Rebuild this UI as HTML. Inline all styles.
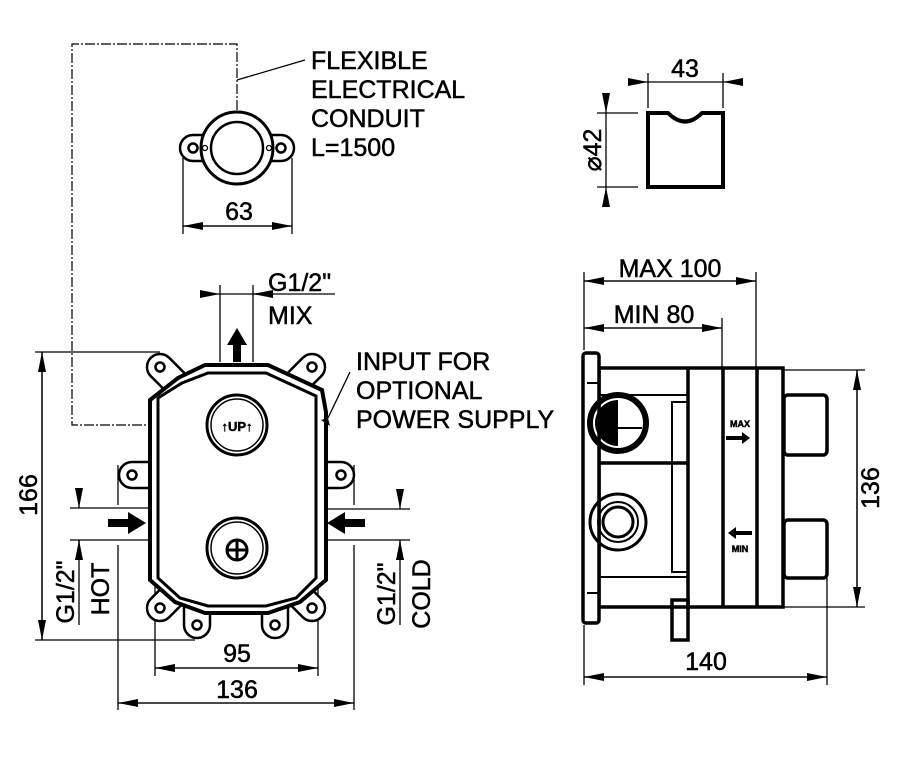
<!DOCTYPE html>
<html><head><meta charset="utf-8"><style>
html,body{margin:0;padding:0;background:#fff;}
svg{display:block;}
text{font-family:"Liberation Sans",Arial,sans-serif;font-size:25px;fill:#000;stroke:#000;stroke-width:0.5;}
</style></head><body>
<svg width="924" height="758" viewBox="0 0 924 758" xmlns="http://www.w3.org/2000/svg">
<defs>
<marker id="a" viewBox="0 0 20 8" refX="20" refY="4" markerWidth="20" markerHeight="8" markerUnits="userSpaceOnUse" orient="auto"><path d="M0,0 L20,4 L0,8 Z" fill="#000"/></marker>
<g id="ear"><path d="M-13,0 A13,13 0 0,1 13,0 L13,26 L-13,26 Z" fill="#fff" stroke="#000" stroke-width="2.5"/><circle r="4.5" fill="none" stroke="#000" stroke-width="2.5"/></g>
</defs>
<g fill="none" stroke="#000" stroke-width="1.3">
<path d="M237,110 V44 H72 V425 H155" stroke-dasharray="10,2,2,2" stroke-width="1.2"/>
<line x1="237" y1="80" x2="305" y2="60"/>
<!-- conduit ring -->
<use href="#ear" transform="translate(193,148) rotate(-90)"/>
<use href="#ear" transform="translate(281,148) rotate(90)"/>
<circle cx="237" cy="148" r="36" stroke-width="3" fill="#fff"/>
<circle cx="237" cy="148" r="26" stroke-width="2.5"/>
<circle cx="205" cy="148" r="2.5"/><circle cx="269" cy="148" r="2.5"/>
<line x1="183" y1="158" x2="183" y2="234"/><line x1="292" y1="158" x2="292" y2="234"/>
<line x1="183" y1="226" x2="292" y2="226" marker-end="url(#a)"/>
<line x1="292" y1="226" x2="183" y2="226" marker-end="url(#a)"/>
<line x1="220" y1="285" x2="220" y2="362"/><line x1="253" y1="285" x2="253" y2="362"/>
<line x1="200" y1="294" x2="220" y2="294" marker-end="url(#a)"/>
<line x1="272" y1="294" x2="253" y2="294" marker-end="url(#a)"/>
<line x1="220" y1="294" x2="335" y2="294"/>
<line x1="35" y1="352" x2="160" y2="352"/><line x1="35" y1="640" x2="195" y2="640"/>
<line x1="42" y1="352" x2="42" y2="640" marker-end="url(#a)"/>
<line x1="42" y1="640" x2="42" y2="352" marker-end="url(#a)"/>
<line x1="70" y1="508" x2="148" y2="508"/><line x1="70" y1="540" x2="148" y2="540"/>
<line x1="79" y1="488" x2="79" y2="508" marker-end="url(#a)"/>
<line x1="79" y1="560" x2="79" y2="540" marker-end="url(#a)"/>
<line x1="79" y1="540" x2="79" y2="625"/>
<line x1="325" y1="509" x2="410" y2="509"/><line x1="325" y1="540" x2="410" y2="540"/>
<line x1="400" y1="489" x2="400" y2="509" marker-end="url(#a)"/>
<line x1="400" y1="560" x2="400" y2="540" marker-end="url(#a)"/>
<line x1="400" y1="540" x2="400" y2="625"/>
<line x1="155" y1="585" x2="155" y2="676"/><line x1="318" y1="585" x2="318" y2="676"/>
<line x1="118" y1="545" x2="118" y2="710"/><line x1="354" y1="545" x2="354" y2="710"/>
<line x1="118" y1="465" x2="118" y2="505"/><line x1="354" y1="465" x2="354" y2="505"/>
<line x1="155" y1="668" x2="318" y2="668" marker-end="url(#a)"/><line x1="318" y1="668" x2="155" y2="668" marker-end="url(#a)"/>
<line x1="118" y1="703" x2="354" y2="703" marker-end="url(#a)"/><line x1="354" y1="703" x2="118" y2="703" marker-end="url(#a)"/>
<path d="M350,372 L328,418" />
<!-- ears -->
<use href="#ear" transform="translate(160,367) rotate(-45)"/>
<use href="#ear" transform="translate(312,367) rotate(45)"/>
<use href="#ear" transform="translate(132,475) rotate(-90)"/>
<use href="#ear" transform="translate(341,475) rotate(90)"/>
<use href="#ear" transform="translate(160,608) rotate(-135)"/>
<use href="#ear" transform="translate(312,608) rotate(135)"/>
<use href="#ear" transform="translate(197,625) rotate(180)"/>
<use href="#ear" transform="translate(275,625) rotate(180)"/>
<path d="M205,365 H268 L322,390 L326,412 V580 L300,602 L268,613 H205 L175,602 L150,580 V400 L178,378 Z" fill="#fff" stroke-width="4"/>
<path d="M208,373 H266 L316,396 V578 L296,598 L266,606 H208 L180,598 L158,578 V398 L182,383 Z" stroke-width="3"/>
<circle cx="237" cy="425" r="30" stroke-width="3"/><circle cx="237" cy="425" r="26" stroke-width="1.5"/>
<circle cx="237" cy="548" r="30" stroke-width="3"/><circle cx="237" cy="548" r="26" stroke-width="1.5"/>
<circle cx="237" cy="550" r="10" stroke-width="3"/>
<line x1="227" y1="550" x2="247" y2="550" stroke-width="3"/><line x1="237" y1="540" x2="237" y2="560" stroke-width="3"/>
<!-- cap -->
<path d="M648,113 H668 Q685,130 702,113 H723 V187 H648 Z" stroke-width="4"/>
<line x1="648" y1="73" x2="648" y2="108"/><line x1="723" y1="73" x2="723" y2="108"/>
<line x1="628" y1="82" x2="648" y2="82" marker-end="url(#a)"/><line x1="742" y1="82" x2="723" y2="82" marker-end="url(#a)"/>
<line x1="648" y1="82" x2="723" y2="82"/>
<line x1="597" y1="113" x2="638" y2="113"/><line x1="597" y1="187" x2="638" y2="187"/>
<line x1="606" y1="94" x2="606" y2="113" marker-end="url(#a)"/><line x1="606" y1="206" x2="606" y2="187" marker-end="url(#a)"/>
<line x1="606" y1="113" x2="606" y2="187"/>
<line x1="584" y1="272" x2="584" y2="350"/><line x1="756" y1="272" x2="756" y2="370"/><line x1="722" y1="318" x2="722" y2="370"/>
<line x1="584" y1="281" x2="756" y2="281" marker-end="url(#a)"/><line x1="756" y1="281" x2="584" y2="281" marker-end="url(#a)"/>
<line x1="584" y1="328" x2="722" y2="328" marker-end="url(#a)"/><line x1="722" y1="328" x2="584" y2="328" marker-end="url(#a)"/>
<line x1="783" y1="370" x2="865" y2="370"/><line x1="783" y1="607" x2="865" y2="607"/>
<line x1="857" y1="370" x2="857" y2="607" marker-end="url(#a)"/><line x1="857" y1="607" x2="857" y2="370" marker-end="url(#a)"/>
<line x1="584" y1="625" x2="584" y2="685"/><line x1="827" y1="578" x2="827" y2="685"/>
<line x1="584" y1="677" x2="827" y2="677" marker-end="url(#a)"/><line x1="827" y1="677" x2="584" y2="677" marker-end="url(#a)"/>
<g stroke-width="3.5">
<rect x="784" y="395" width="43" height="60" rx="4"/>
<rect x="784" y="520" width="43" height="58" rx="4"/>
<rect x="599" y="368" width="184" height="239" fill="#fff"/>
<rect x="583" y="353" width="16" height="270" rx="3" fill="#fff"/>
<rect x="672" y="600" width="16" height="40"/>
<line x1="688" y1="368" x2="688" y2="607"/>
<line x1="723" y1="368" x2="723" y2="607"/>
<line x1="757" y1="368" x2="757" y2="607"/>
<line x1="599" y1="463" x2="688" y2="463"/>
<line x1="599" y1="395" x2="688" y2="395" stroke-width="2"/>
<line x1="599" y1="577" x2="688" y2="577" stroke-width="2"/>
<rect x="672" y="402" width="16" height="170" stroke-width="2"/>
<circle cx="618" cy="423" r="28" stroke-width="6"/>
<circle cx="618" cy="522" r="28" stroke-width="3"/>
<circle cx="618" cy="522" r="20" stroke-width="2"/>
<circle cx="618" cy="522" r="15" stroke-width="3"/>
</g>
<path d="M618,400 A23,23 0 0,0 618,446 Z" fill="#000" stroke="none"/>
<line x1="618" y1="428" x2="642" y2="428" stroke-width="2"/>
<line x1="587" y1="383" x2="599" y2="383" stroke-width="2"/>
<line x1="587" y1="593" x2="599" y2="593" stroke-width="2"/>
</g>
<g fill="#000">
<path d="M233,362 V345 H227 L237,328 L247,345 H241 V362 Z"/>
<path d="M108,519 H128 V512 L146,523 L128,534 V527 H108 Z"/>
<path d="M365,519 H345 V512 L327,523 L345,534 V527 H365 Z"/>
<path d="M726,436 H742 V432 L750,438 L742,444 V440 H726 Z"/>
<path d="M752,531 H736 V527 L728,533 L736,539 V535 H752 Z"/>
<path d="M321,420 L328,418 L330,426 Z"/>
</g>
<text x="311" y="69">FLEXIBLE</text>
<text x="311" y="98">ELECTRICAL</text>
<text x="311" y="127">CONDUIT</text>
<text x="311" y="156">L=1500</text>
<text x="239" y="220" text-anchor="middle">63</text>
<text x="268" y="291">G1/2"</text>
<text x="268" y="324">MIX</text>
<text x="356" y="370">INPUT FOR</text>
<text x="356" y="399">OPTIONAL</text>
<text x="356" y="428">POWER SUPPLY</text>
<text x="685" y="77" text-anchor="middle">43</text>
<text transform="translate(601,150) rotate(-90)" text-anchor="middle">⌀42</text>
<text x="670" y="277" text-anchor="middle">MAX 100</text>
<text x="654" y="323" text-anchor="middle">MIN 80</text>
<text transform="translate(879,488) rotate(-90)" text-anchor="middle">136</text>
<text transform="translate(37,495) rotate(-90)" text-anchor="middle">166</text>
<text transform="translate(74,592) rotate(-90)" text-anchor="middle">G1/2"</text>
<text transform="translate(109,589) rotate(-90)" text-anchor="middle">HOT</text>
<text transform="translate(395,594) rotate(-90)" text-anchor="middle">G1/2"</text>
<text transform="translate(430,594) rotate(-90)" text-anchor="middle">COLD</text>
<text x="237" y="662" text-anchor="middle">95</text>
<text x="237" y="698" text-anchor="middle">136</text>
<text x="706" y="670" text-anchor="middle">140</text>
<text x="237" y="431" text-anchor="middle" style="font-size:13px;font-weight:bold">↑UP↑</text>
<text x="740" y="427" text-anchor="middle" style="font-size:9px;font-weight:bold">MAX</text>
<text x="740" y="552" text-anchor="middle" style="font-size:9px;font-weight:bold">MIN</text>
</svg>
</body></html>
